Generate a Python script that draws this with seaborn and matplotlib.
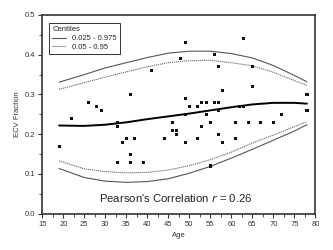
import numpy as np
import pandas as pd
import matplotlib
matplotlib.use("Agg")
import matplotlib.pyplot as plt
from matplotlib.lines import Line2D
from matplotlib.ticker import MultipleLocator, FormatStrFormatter
import seaborn as sns

# Measured values (age, ECV fraction)
ages = [19, 22, 26, 28, 29, 33, 33, 33, 34, 35, 36, 36, 36, 37, 39, 41, 44, 46, 46, 47,
        47, 48, 49, 49, 49, 49, 50, 52, 52, 53, 53, 54, 54, 55, 55, 56, 56, 57, 57, 57,
        57, 58, 58, 61, 61, 62, 63, 63, 64, 65, 65, 67, 70, 72, 78, 78]
ecv = [0.17, 0.24, 0.28, 0.27, 0.26, 0.23, 0.22, 0.13, 0.18, 0.19, 0.30, 0.15, 0.13, 0.19,
       0.13, 0.36, 0.19, 0.23, 0.21, 0.21, 0.20, 0.39, 0.43, 0.29, 0.25, 0.18, 0.27, 0.27,
       0.19, 0.28, 0.22, 0.28, 0.25, 0.23, 0.12, 0.40, 0.28, 0.28, 0.37, 0.26, 0.20, 0.31,
       0.18, 0.23, 0.19, 0.27, 0.27, 0.44, 0.23, 0.37, 0.32, 0.23, 0.23, 0.25, 0.30, 0.26]

# Centile curves
curve_age = [19, 25, 30, 35, 40, 45, 50, 55, 60, 65, 70, 75, 78]
c975 = [0.331, 0.350, 0.367, 0.380, 0.393, 0.404, 0.409, 0.409, 0.403, 0.392, 0.373, 0.348, 0.332]
c95 = [0.313, 0.330, 0.344, 0.357, 0.370, 0.380, 0.385, 0.386, 0.380, 0.372, 0.356, 0.335, 0.323]
c50 = [0.222, 0.221, 0.224, 0.230, 0.238, 0.245, 0.252, 0.260, 0.268, 0.275, 0.279, 0.279, 0.277]
c05 = [0.133, 0.113, 0.106, 0.103, 0.104, 0.110, 0.121, 0.136, 0.155, 0.178, 0.198, 0.219, 0.232]
c025 = [0.114, 0.091, 0.082, 0.079, 0.081, 0.088, 0.102, 0.119, 0.140, 0.162, 0.185, 0.208, 0.224]

points = pd.DataFrame({"Age": ages, "ECV": ecv})
curves = pd.DataFrame({"Age": curve_age, "c975": c975, "c95": c95, "c50": c50,
                       "c05": c05, "c025": c025})

sns.set_style("ticks")
plt.rcParams["font.family"] = ["Liberation Sans", "DejaVu Sans"]

fig = plt.figure(figsize=(3.33, 2.5), dpi=100)
ax = fig.add_axes([0.127, 0.145, 0.82, 0.795])

outer = dict(color="#555555", linewidth=0.8)
dotted = dict(color="#666666", linewidth=0.8, linestyle=(0, (1, 0.8)))
for col, style in [("c975", outer), ("c025", outer), ("c95", dotted), ("c05", dotted)]:
    sns.lineplot(data=curves, x="Age", y=col, ax=ax, **style)
sns.lineplot(data=curves, x="Age", y="c50", ax=ax, color="black", linewidth=1.4)

sns.scatterplot(data=points, x="Age", y="ECV", ax=ax, marker="s", s=5,
                color="#111111", edgecolor="none", zorder=5)

ax.set_xlim(15, 80)
ax.set_ylim(0, 0.5)
ax.xaxis.set_major_locator(MultipleLocator(5))
ax.xaxis.set_minor_locator(MultipleLocator(2.5))
ax.yaxis.set_major_locator(MultipleLocator(0.1))
ax.yaxis.set_minor_locator(MultipleLocator(0.05))
ax.yaxis.set_major_formatter(FormatStrFormatter("%.1f"))
ax.tick_params(which="major", length=3, width=0.8, labelsize=5.5, colors="#333333", pad=2)
ax.tick_params(which="minor", length=2, width=0.6, colors="#333333")
for sp in ax.spines.values():
    sp.set_linewidth(1.2)
    sp.set_color("#333333")

ax.set_xlabel("Age", fontsize=5.5, color="#333333", labelpad=3)
ax.set_ylabel("ECV Fraction", fontsize=5.5, color="#333333", labelpad=3)

ax.text(46.7, 0.04, "Pearson's Correlation $\\it{r}$ = 0.26", ha="center", va="center",
        fontsize=8.2, color="#222222")

handles = [Line2D([], [], **outer), Line2D([], [], **dotted)]
leg = ax.legend(handles, ["0.025 - 0.975", "0.05 - 0.95"], title="Centiles",
                loc="upper left", bbox_to_anchor=(0.026, 0.958), borderaxespad=0,
                fontsize=5.5, title_fontsize=5.5, alignment="left", fancybox=False,
                framealpha=1, edgecolor="#333333", handlelength=1.8, handletextpad=0.8,
                labelspacing=0.2, borderpad=0.4)
leg.get_frame().set_linewidth(0.7)

fig.savefig("out.png", dpi=100)
